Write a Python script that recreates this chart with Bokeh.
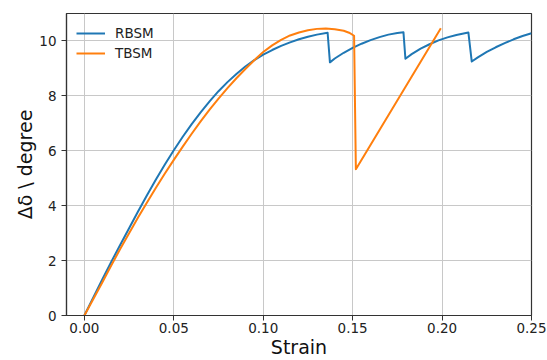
from bokeh.plotting import figure
from bokeh.models import Range1d, FixedTicker, NumeralTickFormatter, Legend, LegendItem
from bokeh.embed import file_html
from bokeh.resources import INLINE

# ---- data ----
rbsm_strain = [0.0, 0.005, 0.01, 0.015, 0.02, 0.025, 0.03, 0.035, 0.04, 0.045,
               0.05, 0.055, 0.06, 0.065, 0.07, 0.075, 0.08, 0.085, 0.09, 0.095,
               0.10, 0.105, 0.11, 0.115, 0.12, 0.125, 0.13, 0.136,
               0.1373, 0.14, 0.145, 0.15, 0.155, 0.16, 0.165, 0.17, 0.175, 0.1784,
               0.1795, 0.183, 0.188, 0.193, 0.198, 0.203, 0.208, 0.2147,
               0.2166, 0.22, 0.225, 0.23, 0.235, 0.24, 0.245, 0.25]
rbsm_value = [0.0, 0.66, 1.31, 1.95, 2.57, 3.18, 3.79, 4.38, 4.95, 5.5,
              6.02, 6.51, 6.97, 7.4, 7.8, 8.17, 8.5, 8.8, 9.07, 9.3,
              9.5, 9.67, 9.82, 9.95, 10.06, 10.15, 10.23, 10.3,
              9.22, 9.36, 9.57, 9.75, 9.9, 10.03, 10.14, 10.23, 10.29, 10.32,
              9.35, 9.52, 9.72, 9.88, 10.02, 10.13, 10.22, 10.31,
              9.25, 9.4, 9.6, 9.77, 9.92, 10.06, 10.18, 10.28]

tbsm_strain = [0.0, 0.005, 0.01, 0.015, 0.02, 0.025, 0.03, 0.035, 0.04, 0.045,
               0.05, 0.055, 0.06, 0.065, 0.07, 0.075, 0.08, 0.085, 0.09, 0.095,
               0.10, 0.105, 0.11, 0.115, 0.12, 0.125, 0.13, 0.135, 0.14, 0.145,
               0.148, 0.1508, 0.1518, 0.1993]
tbsm_value = [0.0, 0.6, 1.2, 1.82, 2.42, 3.0, 3.57, 4.12, 4.65, 5.17,
              5.67, 6.15, 6.62, 7.07, 7.5, 7.9, 8.28, 8.64, 8.98, 9.3,
              9.6, 9.84, 10.04, 10.2, 10.31, 10.39, 10.44, 10.45, 10.43, 10.37,
              10.3, 10.19, 5.33, 10.46]

x_ticks = [0.0, 0.05, 0.10, 0.15, 0.20, 0.25]
y_ticks = [0, 2, 4, 6, 8, 10]

BLUE = "#1f77b4"
ORANGE = "#ff7f0e"
FONT = "DejaVu Sans"

p = figure(width=547, height=360, output_backend="svg", toolbar_location=None,
           x_range=Range1d(-0.01, 0.25), y_range=Range1d(0, 11),
           min_border_left=66, min_border_right=16, min_border_top=13,
           min_border_bottom=44)

p.background_fill_color = "white"
p.border_fill_color = "white"
p.outline_line_color = "#333333"
p.outline_line_width = 1.2

r1 = p.line(rbsm_strain, rbsm_value, line_color=BLUE, line_width=2,
            line_join="round")
r2 = p.line(tbsm_strain, tbsm_value, line_color=ORANGE, line_width=2,
            line_join="round")

for ax in (p.xaxis[0], p.yaxis[0]):
    ax.axis_line_color = "#333333"
    ax.axis_line_width = 1.2
    ax.major_tick_line_color = "#333333"
    ax.major_tick_out = 5
    ax.major_tick_in = 0
    ax.minor_tick_line_color = None
    ax.major_label_text_font = FONT
    ax.major_label_text_font_size = "13.5px"
    ax.major_label_text_color = "#222222"
    ax.axis_label_text_font = FONT
    ax.axis_label_text_font_size = "19px"
    ax.axis_label_text_font_style = "normal"
    ax.axis_label_text_color = "#111111"

p.xaxis.ticker = FixedTicker(ticks=x_ticks)
p.yaxis.ticker = FixedTicker(ticks=y_ticks)
p.xaxis.formatter = NumeralTickFormatter(format="0.00")
p.yaxis.formatter = NumeralTickFormatter(format="0")
p.xaxis.axis_label = "Strain"
p.yaxis.axis_label = "Δδ \\ degree"
p.xaxis.major_label_standoff = 2
p.xaxis.axis_label_standoff = 0
p.yaxis.major_label_standoff = 5
p.yaxis.axis_label_standoff = 0

p.grid.grid_line_color = "#c8c8c8"
p.grid.grid_line_width = 1
p.xgrid.ticker = FixedTicker(ticks=x_ticks)
p.ygrid.ticker = FixedTicker(ticks=y_ticks)

legend = Legend(items=[LegendItem(label="RBSM", renderers=[r1]),
                       LegendItem(label="TBSM", renderers=[r2])],
                location="top_left", margin=10, padding=0, spacing=0,
                glyph_width=29, glyph_height=20, label_height=20,
                label_standoff=10, border_line_color=None,
                background_fill_alpha=0.0,
                label_text_font=FONT, label_text_font_size="13.5px",
                label_text_color="#222222")
p.add_layout(legend, "center")

open("out.html", "w").write(file_html(p, INLINE))
